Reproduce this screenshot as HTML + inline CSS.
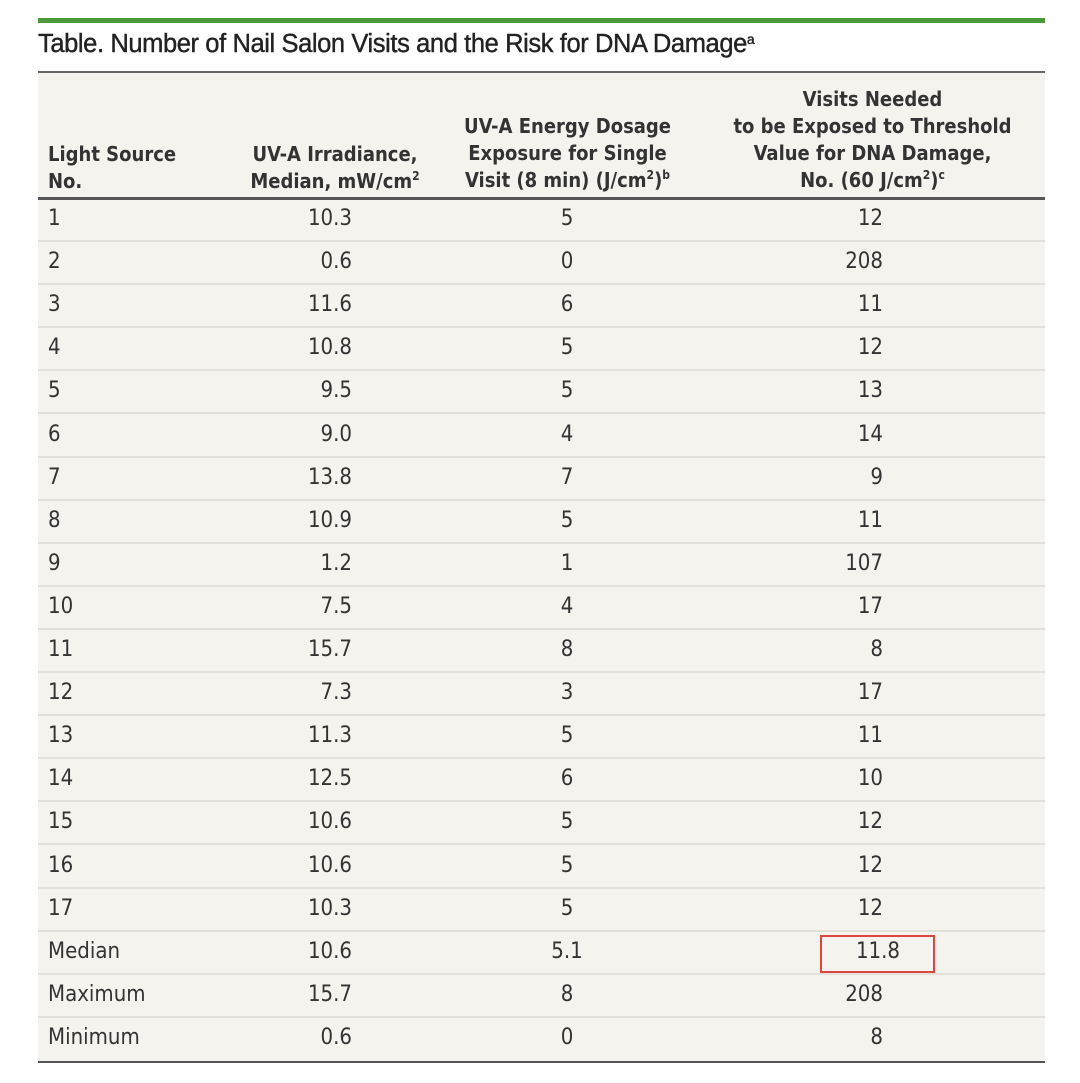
<!DOCTYPE html>
<html><head><meta charset="utf-8"><style>
body{margin:0;width:1080px;height:1083px;background:#fff;position:relative;overflow:hidden;font-family:"Liberation Sans",sans-serif;color:#333;}
.a{position:absolute;white-space:nowrap;}
.h{font-family:"DejaVu Sans Condensed","Liberation Sans",sans-serif;font-weight:bold;font-size:20px;line-height:27px;color:#333;}
.h sup,.t sup{font-size:12px;line-height:0;vertical-align:8px;}
.d{font-family:"DejaVu Sans Condensed","Liberation Sans",sans-serif;font-size:22px;color:#333;}
.sep{position:absolute;left:38px;width:1007px;height:2px;background:#e2e0d8;}
</style></head><body>
<div class="a" style="left:38px;top:18px;width:1007px;height:5px;background:#4a9a3a"></div>
<div class="a t" style="left:38px;top:30px;font-size:25.5px;color:#222;letter-spacing:-0.4px;-webkit-text-stroke:0.4px #222">Table. Number of Nail Salon Visits and the Risk for DNA Damage<sup style="font-size:14px">a</sup></div>
<div class="a" style="left:38px;top:72px;width:1007px;height:991px;background:#f4f3ee"></div>
<div class="a" style="left:38px;top:71px;width:1007px;height:2px;background:#666"></div>
<div class="a" style="left:38px;top:197px;width:1007px;height:3px;background:#555"></div>
<div class="a" style="left:38px;top:1061px;width:1007px;height:2px;background:#555"></div>
<div class="a h" style="left:48px;top:141px">Light Source<br>No.</div>
<div class="a h" style="left:230px;top:141px;width:210px;text-align:center">UV-A Irradiance,<br>Median, mW/cm<sup>2</sup></div>
<div class="a h" style="left:460px;top:113px;width:215px;text-align:center">UV-A Energy Dosage<br>Exposure for Single<br>Visit (8 min) (J/cm<sup>2</sup>)<sup>b</sup></div>
<div class="a h" style="left:720px;top:86px;width:305px;text-align:center">Visits Needed<br>to be Exposed to Threshold<br>Value for DNA Damage,<br>No. (60 J/cm<sup>2</sup>)<sup>c</sup></div>
<div id="rows"></div>
<div class="a" style="left:820px;top:935px;width:111px;height:34px;border:2px solid #d9473f"></div>
<script>
var r=[["1","10.3","5","12"],["2","0.6","0","208"],["3","11.6","6","11"],["4","10.8","5","12"],["5","9.5","5","13"],["6","9.0","4","14"],["7","13.8","7","9"],["8","10.9","5","11"],["9","1.2","1","107"],["10","7.5","4","17"],["11","15.7","8","8"],["12","7.3","3","17"],["13","11.3","5","11"],["14","12.5","6","10"],["15","10.6","5","12"],["16","10.6","5","12"],["17","10.3","5","12"],["Median","10.6","5.1","11.8"],["Maximum","15.7","8","208"],["Minimum","0.6","0","8"]];
var h="";
for(var i=0;i<r.length;i++){var c=219+i*43.1,t=c-13;
h+='<div class="a d" style="left:48px;top:'+t+'px">'+r[i][0]+'</div>';
h+='<div class="a d" style="left:252px;width:100px;text-align:right;top:'+t+'px">'+r[i][1]+'</div>';
h+='<div class="a d" style="left:517px;width:100px;text-align:center;top:'+t+'px">'+r[i][2]+'</div>';
h+=(i==17?'<div class="a d" style="left:828px;width:100px;text-align:center;top:'+t+'px">':'<div class="a d" style="left:783px;width:100px;text-align:right;top:'+t+'px">')+r[i][3]+'</div>';
if(i<r.length-1)h+='<div class="sep" style="top:'+(c+21)+'px"></div>';}
document.getElementById("rows").innerHTML=h;
</script>
</body></html>
